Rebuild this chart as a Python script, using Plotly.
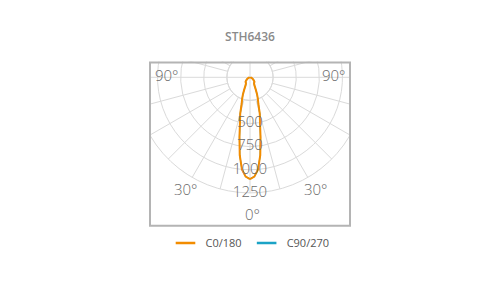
import math
import plotly.graph_objects as go

# ---------------- data ----------------
chart_title = "STH6436"
series_names = ["C0/180", "C90/270"]
series_colors = ["#f28c00", "#1ba3c6"]

gamma_deg = [0, 2.5, 5, 7.5, 10, 12.5, 15, 17.5, 20, 22.5, 25, 30, 35, 40, 45, 50, 60, 70, 80, 90,
             120, 150, 180, 210, 240,
             270, 280, 290, 300, 310, 315, 320, 325, 330, 335, 337.5, 340, 342.5, 345, 347.5,
             350, 352.5, 355, 357.5, 360]
c0_180 = [1100, 1075, 1000, 850, 655, 500, 410, 300, 250, 200, 150, 92, 76, 72, 68, 55, 35, 18, 8, 3,
          2, 2, 2, 2, 2,
          3, 8, 18, 35, 55, 68, 72, 76, 92, 150, 200, 250, 300, 410, 500,
          655, 850, 1000, 1075, 1100]
c90_270 = [1100, 1075, 1000, 850, 655, 500, 410, 300, 250, 200, 150, 92, 76, 72, 68, 55, 35, 18, 8, 3,
           2, 2, 2, 2, 2,
           3, 8, 18, 35, 55, 68, 72, 76, 92, 150, 200, 250, 300, 410, 500,
           655, 850, 1000, 1075, 1100]

radial_ticks = [250, 500, 750, 1000, 1250]
radial_labels = ["500", "750", "1000", "1250"]
radial_label_values = [500, 750, 1000, 1250]
angle_labels = ["90°", "30°", "0°", "30°", "90°"]

# ---------------- geometry / style ----------------
W, H = 500, 300
CX, CY = 250.0, 77.3
R = 115.6
RMAX = 1250
SECTOR = [-220, 40]
GRID = "#dadada"
TXT = "#6a6a6a"
FONT = "Open Sans"

top_px = CY - R * math.sin(math.radians(SECTOR[1]))
main_domain = dict(x=[(CX - R) / W, (CX + R) / W], y=[1 - (CY + R) / H, 1 - top_px / H])
r_in = R * radial_ticks[0] / RMAX
inner_domain = dict(x=[(CX - r_in) / W, (CX + r_in) / W], y=[1 - (CY + r_in) / H, 1 - (CY - r_in) / H])

fig = go.Figure()

# dummy traces so the grid-only subplots render
fig.add_trace(go.Scatterpolar(r=[RMAX], theta=[0], mode="markers", marker=dict(opacity=0),
                              subplot="polar", showlegend=False, hoverinfo="skip"))
fig.add_trace(go.Scatterpolar(r=[0], theta=[0], mode="markers", marker=dict(opacity=0),
                              subplot="polar2", showlegend=False, hoverinfo="skip"))

# data curves (C90/270 drawn first, underneath and slightly thinner)
fig.add_trace(go.Scatterpolar(r=c90_270, theta=gamma_deg, mode="lines", subplot="polar3",
                              line=dict(color=series_colors[1], width=1.2), showlegend=False,
                              hoverinfo="skip"))
fig.add_trace(go.Scatterpolar(r=c0_180, theta=gamma_deg, mode="lines", subplot="polar3",
                              line=dict(color=series_colors[0], width=2), showlegend=False,
                              hoverinfo="skip"))

# radial value labels along the 0° spoke
fig.add_trace(go.Scatterpolar(r=radial_label_values, theta=[0] * len(radial_label_values),
                              mode="text", text=radial_labels, textposition="middle center",
                              textfont=dict(family=FONT, size=15, color=TXT, weight=300),
                              cliponaxis=False, subplot="polar3", showlegend=False,
                              hoverinfo="skip"))

# legend entries
for name, col in zip(series_names, series_colors):
    fig.add_trace(go.Scatterpolar(r=[None], theta=[None], mode="markers", name=name,
                                  subplot="polar3",
                                  marker=dict(symbol="line-ew", size=14,
                                              line=dict(width=2.5, color=col))))

hidden_radial = dict(showticklabels=False, ticks="", showline=False)
hidden_ang = dict(showticklabels=False, ticks="", rotation=-90, direction="counterclockwise",
                  thetaunit="degrees")

fig.update_layout(
    width=W, height=H, autosize=False,
    margin=dict(l=0, r=0, t=0, b=0),
    paper_bgcolor="white", plot_bgcolor="white",
    font=dict(family=FONT, color=TXT),
    title=dict(text=chart_title, x=0.5, xanchor="center", y=1 - 37 / H, yanchor="middle",
               yref="container",
               font=dict(family=FONT, size=12, color="#8a8a8a", weight=600)),
    polar=dict(
        domain=main_domain, sector=SECTOR, hole=radial_ticks[0] / RMAX, bgcolor="white",
        radialaxis=dict(range=[radial_ticks[0], RMAX], tickvals=radial_ticks, showgrid=True,
                        gridcolor=GRID, gridwidth=1, **hidden_radial),
        angularaxis=dict(tickmode="linear", tick0=0, dtick=15, showgrid=True, gridcolor=GRID,
                         gridwidth=1, showline=True, linecolor=GRID, linewidth=1, **hidden_ang),
    ),
    polar2=dict(
        domain=inner_domain, bgcolor="rgba(0,0,0,0)",
        radialaxis=dict(range=[0, radial_ticks[0]], showgrid=False, **hidden_radial),
        angularaxis=dict(tickmode="linear", tick0=0, dtick=90, showgrid=True, gridcolor=GRID,
                         gridwidth=1, showline=True, linecolor=GRID, linewidth=1, **hidden_ang),
    ),
    polar3=dict(
        domain=main_domain, sector=SECTOR, bgcolor="rgba(0,0,0,0)",
        radialaxis=dict(range=[0, RMAX], showgrid=False, **hidden_radial),
        angularaxis=dict(showgrid=False, showline=False, **hidden_ang),
    ),
    legend=dict(orientation="h", x=0.5, xanchor="center", y=1 - 243 / H, yanchor="middle",
                font=dict(family=FONT, size=11, color="#555555"), bgcolor="rgba(0,0,0,0)"),
    showlegend=True,
)

# white masks outside the frame, then the frame
def px_rect(x0, y0, x1, y1, **kw):
    return dict(type="rect", xref="paper", yref="paper", x0=x0 / W, x1=x1 / W,
                y0=1 - y1 / H, y1=1 - y0 / H, layer="above", **kw)

mask = dict(fillcolor="white", line=dict(width=0))
shapes = [
    px_rect(0, 0, 149, H, **mask),
    px_rect(351, 0, W, H, **mask),
    px_rect(0, 0, W, 61.5, **mask),
    px_rect(0, 227, W, H, **mask),
    px_rect(150, 62.5, 350, 225.8, line=dict(color="#b4b4b4", width=2), fillcolor="rgba(0,0,0,0)"),
]
fig.update_layout(shapes=shapes)

# angle labels
angle_pos = [(167, 75), (186, 189), (252.5, 214), (315.5, 189), (334, 75)]
fig.update_layout(annotations=[
    dict(text=t, x=x / W, y=1 - y / H, xref="paper", yref="paper", xanchor="center",
         yanchor="middle", showarrow=False,
         font=dict(family=FONT, size=15, color=TXT, weight=300))
    for t, (x, y) in zip(angle_labels, angle_pos)
])

fig.write_html("out.html")
